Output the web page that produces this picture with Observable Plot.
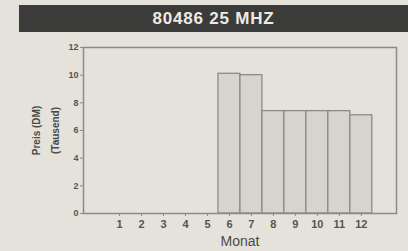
<!DOCTYPE html>
<html><head><meta charset="utf-8">
<script src="https://cdn.jsdelivr.net/npm/d3@7"></script>
<script src="https://cdn.jsdelivr.net/npm/@observablehq/plot@0.6"></script>
<style>
html,body{margin:0;padding:0;background:#e5e2db;width:408px;height:251px;overflow:hidden;font-family:"Liberation Sans",Arial,sans-serif;}
#title{margin:5px 0 0 19px;width:389px;height:27px;background:#3b3b3a;color:#ecebe6;font-weight:bold;font-size:17px;line-height:27px;text-align:center;letter-spacing:0.8px;}
#chart svg{display:block;}
</style></head>
<body>
<div id="title">80486 25 MHZ</div>
<div id="chart"></div>
<script>
const months = [1,2,3,4,5,6,7,8,9,10,11,12];
const prices = [0,0,0,0,0,10.1,10.0,7.4,7.4,7.4,7.4,7.1];
const yTicks = [0,2,4,6,8,10,12];
const data = months.map((m,i)=>({m, p:prices[i]})).filter(d=>d.p>0);

const plot = Plot.plot({
  width:408, height:219,
  marginTop:15, marginBottom:38, marginLeft:83, marginRight:12,
  style:{background:"transparent", color:"#4a4a48", fontFamily:"Liberation Sans, Arial, sans-serif"},
  x:{domain:[-0.64,13.6], label:null},
  y:{domain:[0,12], label:null},
  marks:[
    Plot.rectY(data,{x1:d=>d.m-0.5, x2:d=>d.m+0.5, y:"p", fill:"#d7d4cd", stroke:"#8c8a85", strokeWidth:1.3}),
    Plot.frame({stroke:"#8c8a85", strokeWidth:1.5}),
    Plot.axisX({ticks:months, tickSize:3, tickPadding:4, fontSize:11, fontWeight:"bold", stroke:"#8c8a85", fill:"#555553"}),
    Plot.axisY({ticks:yTicks, tickSize:3, tickPadding:2, fontSize:9, fontWeight:"bold", stroke:"#8c8a85", fill:"#555553"}),
    Plot.text(["Monat"],{frameAnchor:"bottom", dy:32, fontSize:14, fill:"#4a4a48"}),
    Plot.text(["Preis (DM)\n(Tausend)"],{frameAnchor:"left", textAnchor:"middle", dx:-40, rotate:-90, fontSize:10, fontWeight:"bold", fill:"#4a4a48", lineHeight:1.9})
  ]
});
document.getElementById("chart").appendChild(plot);
</script>
</body></html>
